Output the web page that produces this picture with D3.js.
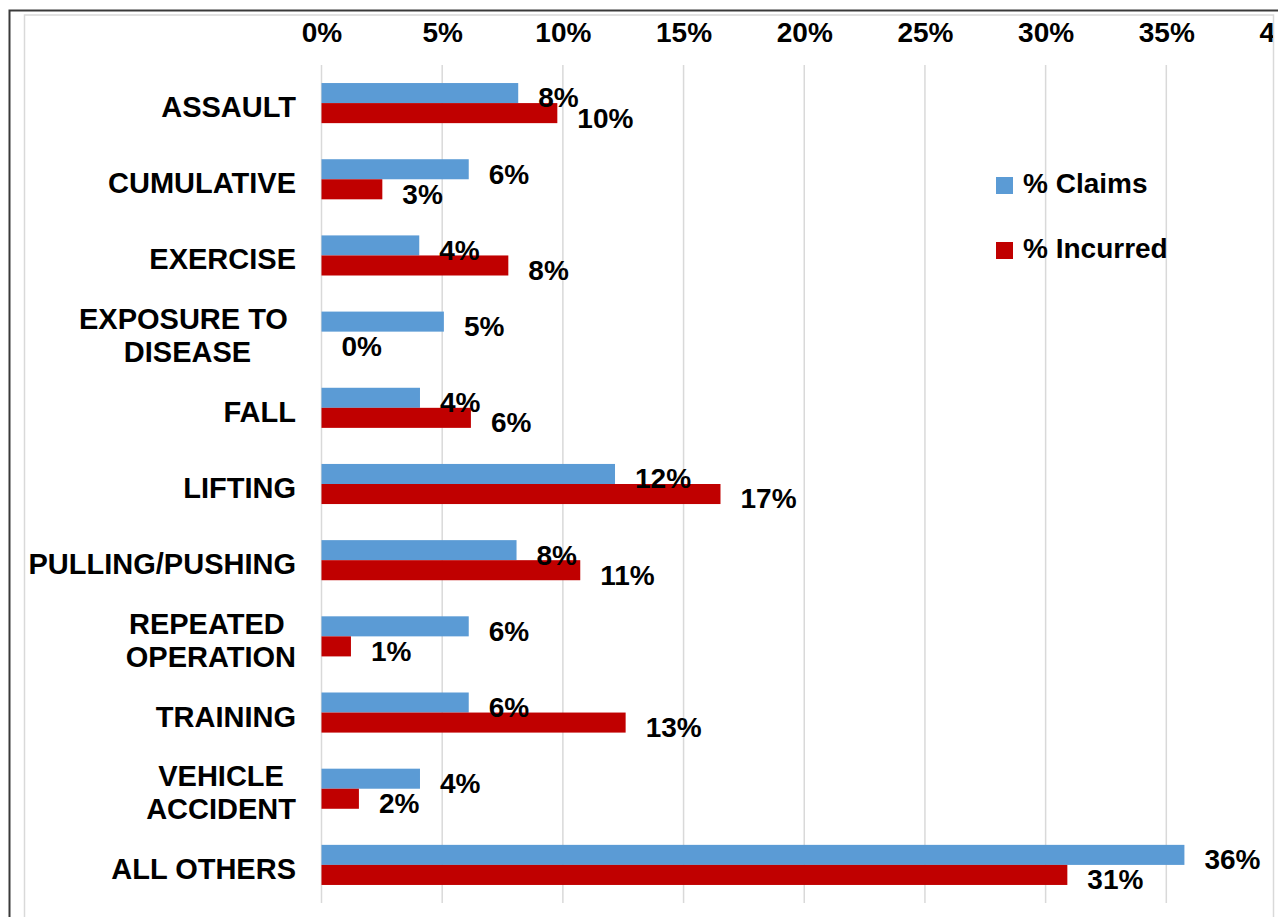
<!DOCTYPE html>
<html lang="en">

<head>
    <meta charset="utf-8" />
    <script src="https://cdnjs.cloudflare.com/ajax/libs/d3/7.8.5/d3.min.js"></script>
    <style type="text/css">
        body {
            margin: 0;
            background: #fff;
        }

        text {
            font-family: "Liberation Sans", Arial, sans-serif;
            font-weight: bold;
            fill: #000;
        }
    </style>
</head>

<body>
    <div class="viz-box"></div>
    <script type="text/javascript">
        // chart data
        var categories = ["ASSAULT", "CUMULATIVE", "EXERCISE", "EXPOSURE TO DISEASE", "FALL", "LIFTING",
            "PULLING/PUSHING", "REPEATED OPERATION", "TRAINING", "VEHICLE ACCIDENT", "ALL OTHERS"];
        // label lines as shown on the axis (trailing spaces kept like the original)
        var categoryLines = [["ASSAULT"], ["CUMULATIVE"], ["EXERCISE"], ["EXPOSURE TO ", "DISEASE"], ["FALL"],
            ["LIFTING"], ["PULLING/PUSHING"], ["REPEATED ", "OPERATION"], ["TRAINING"], ["VEHICLE", "ACCIDENT"],
            ["ALL OTHERS"]];
        var seriesNames = ["% Claims", "% Incurred"];
        var claims = [0.0815, 0.061, 0.0405, 0.0507, 0.0408, 0.1216, 0.0808, 0.061, 0.061, 0.0408, 0.3575];
        var incurred = [0.0977, 0.0252, 0.0774, 0, 0.0619, 0.1653, 0.1072, 0.0122, 0.126, 0.0155, 0.309];
        var xTicks = [0, 0.05, 0.10, 0.15, 0.20, 0.25, 0.30, 0.35, 0.40];
        var colors = ["#5b9bd5", "#c00000"];

        var width = 1278, height = 917;
        var plot = { left: 321.5, right: 1287, top: 65, bottom: 903 };

        var svg = d3.select(".viz-box")
            .append("svg")
            .attr("width", width)
            .attr("height", height)
            .style("display", "block");

        var defs = svg.append("defs");
        defs.append("clipPath").attr("id", "chartClip")
            .append("rect")
            .attr("x", 0).attr("y", 0)
            .attr("width", 1273).attr("height", height);

        // chart frame (outer dark edge + light chart border)
        svg.append("rect")
            .attr("x", 9.5).attr("y", 10.5)
            .attr("width", width).attr("height", height)
            .attr("fill", "#fff")
            .attr("stroke", "#3a3a3a")
            .attr("stroke-width", 2);
        svg.append("rect")
            .attr("x", 24.5).attr("y", 15)
            .attr("width", 1273.5 - 24.5).attr("height", height)
            .attr("fill", "none")
            .attr("stroke", "#d9d9d9")
            .attr("stroke-width", 1.5);

        var g = svg.append("g").attr("clip-path", "url(#chartClip)");

        var x = d3.scaleLinear()
            .domain([0, 0.40])
            .range([plot.left, plot.right]);

        var y = d3.scaleBand()
            .domain(categories)
            .range([plot.top, plot.bottom])
            .padding(0);

        var ySub = d3.scaleBand()
            .domain(seriesNames)
            .range([0, y.bandwidth()])
            .paddingInner(0)
            .paddingOuter(0.9);

        // gridlines
        g.selectAll("line.grid")
            .data(xTicks)
            .enter()
            .append("line")
            .attr("class", "grid")
            .attr("x1", function (d) { return x(d); })
            .attr("x2", function (d) { return x(d); })
            .attr("y1", plot.top)
            .attr("y2", plot.bottom)
            .attr("stroke", "#d9d9d9")
            .attr("stroke-width", 1.5);

        // top axis labels
        var xAxis = d3.axisTop(x)
            .tickValues(xTicks)
            .tickFormat(d3.format(".0%"))
            .tickSize(0)
            .tickPadding(0);

        var axisG = g.append("g")
            .attr("transform", "translate(0,42)")
            .call(xAxis);
        axisG.select(".domain").remove();
        axisG.attr("font-family", null).attr("font-size", null);
        axisG.selectAll("text")
            .style("font-size", "28px")
            .attr("fill", "#000");

        // bars
        var series = [claims, incurred];
        series.forEach(function (vals, si) {
            var rows = categories.map(function (c, i) { return { cat: c, v: vals[i] }; });

            g.selectAll("rect.s" + si)
                .data(rows)
                .enter()
                .append("rect")
                .attr("class", "s" + si)
                .attr("x", x(0))
                .attr("y", function (d) { return y(d.cat) + ySub(seriesNames[si]); })
                .attr("width", function (d) { return x(d.v) - x(0); })
                .attr("height", ySub.bandwidth())
                .attr("fill", colors[si]);
        });

        // data labels (drawn after both series so they sit on top)
        series.forEach(function (vals, si) {
            var rows = categories.map(function (c, i) { return { cat: c, v: vals[i] }; });
            g.selectAll("text.l" + si)
                .data(rows)
                .enter()
                .append("text")
                .attr("class", "l" + si)
                .attr("x", function (d) { return x(d.v) + 20; })
                .attr("y", function (d) { return y(d.cat) + ySub(seriesNames[si]) + ySub.bandwidth() / 2 + 7; })
                .attr("dominant-baseline", "middle")
                .style("font-size", "28px")
                .text(function (d) { return Math.round(d.v * 100) + "%"; });
        });

        // category labels, right aligned block, lines centred inside it
        var labelRight = 296;
        categories.forEach(function (c, i) {
            var lines = categoryLines[i];
            var cy = y(c) + y.bandwidth() / 2 + 6;
            var t = svg.append("text")
                .style("font-size", "29px")
                .style("white-space", "pre")
                .attr("text-anchor", "middle")
                .attr("dominant-baseline", "middle");
            var spans = lines.map(function (line, li) {
                return t.append("tspan")
                    .attr("y", cy + (li - (lines.length - 1) / 2) * 33)
                    .text(line);
            });
            var maxW = d3.max(spans, function (s) { return s.node().getComputedTextLength(); });
            spans.forEach(function (s) { s.attr("x", labelRight - maxW / 2); });
        });

        // legend
        var legend = svg.append("g")
            .attr("transform", "translate(996,177)");
        seriesNames.forEach(function (name, i) {
            legend.append("rect")
                .attr("x", 0)
                .attr("y", i * 65)
                .attr("width", 17)
                .attr("height", 17)
                .attr("fill", colors[i]);
            legend.append("text")
                .attr("x", 27)
                .attr("y", i * 65 + 9)
                .attr("dominant-baseline", "middle")
                .style("font-size", "28px")
                .text(name);
        });
    </script>
</body>

</html>
